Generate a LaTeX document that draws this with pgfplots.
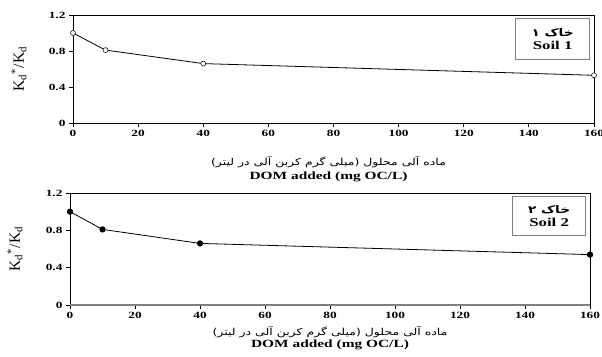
\documentclass[border=0pt]{standalone}
\usepackage{fontspec}
\usepackage{pgfplots}
\pgfplotsset{compat=1.18}
\TeXXeTstate=1
\setmainfont{Liberation Serif}[FakeStretch=1.4]
\newfontfamily\plainserif{Liberation Serif}
\newfontfamily\fa[Script=Arabic,FakeStretch=1.3]{DejaVu Sans}
\newcommand\dompersian{\beginR ماده آلی محلول (میلی گرم کربن آلی در لیتر)\endR}
\pgfplotsset{myax/.style={
  scale only axis, anchor=north west,
  xmin=0, xmax=160, ymin=0, ymax=1.2,
  xtick={0,20,...,160}, ytick={0,0.4,0.8,1.2},
  tick align=outside, xtick pos=bottom, ytick pos=left,
  major tick length=4pt,
  tick style={black, line width=0.8pt},
  ticklabel style={font=\bfseries\fontsize{9.5}{10}\selectfont},
  /pgf/number format/assume math mode=true,
  axis line style={line width=0.8pt},
  clip=false,
  ylabel={\plainserif\fontsize{15.5}{17}\selectfont K\textsubscript{d}\textsuperscript{*}/K\textsubscript{d}},
}}
\begin{document}
\begin{tikzpicture}
\begin{axis}[myax, at={(73pt,-15pt)}, width=521pt, height=108pt,
  ylabel style={at={([xshift=-54pt]axis description cs:0,0.5)}, anchor=center}]
\addplot[black, line width=0.8pt, mark=*, mark size=2.5pt, mark options={fill=white, draw=black, line width=0.5pt}]
  coordinates {(0,1.0) (10,0.81) (40,0.66) (160,0.53)};
\node[draw=gray, line width=0.8pt, anchor=north east, minimum width=74pt, minimum height=41pt, align=center, inner sep=1pt]
  at ([xshift=-4pt,yshift=-3pt]rel axis cs:1,1)
  {{\fa\bfseries\fontsize{10.5}{12}\selectfont\beginR خاک ۱\endR}\\[1pt]{\bfseries\fontsize{12}{13}\selectfont Soil 1}};
\node[anchor=center] at ([xshift=-5pt,yshift=-39pt]rel axis cs:0.5,0) {\fa\fontsize{9.6}{11}\selectfont\dompersian};
\node[anchor=center] at ([xshift=-5pt,yshift=-54pt]rel axis cs:0.5,0) {\bfseries\fontsize{11}{12}\selectfont DOM added (mg OC/L)};
\end{axis}
\begin{axis}[myax, at={(70pt,-193pt)}, width=520pt, height=112pt,
  ylabel style={at={([xshift=-55pt]axis description cs:0,0.5)}, anchor=center}]
\draw[gray, line width=1.5pt] (rel axis cs:0,0) -- (rel axis cs:1,0);
\addplot[black, line width=0.8pt, mark=*, mark size=2.7pt, mark options={fill=black, draw=black}]
  coordinates {(0,1.0) (10,0.81) (40,0.66) (160,0.54)};
\node[draw=gray, line width=0.8pt, anchor=north east, minimum width=73pt, minimum height=39pt, align=center, inner sep=1pt]
  at ([xshift=-4pt,yshift=-3pt]rel axis cs:1,1)
  {{\fa\bfseries\fontsize{10.5}{12}\selectfont\beginR خاک ۲\endR}\\[1pt]{\bfseries\fontsize{12}{13}\selectfont Soil 2}};
\node[anchor=center] at ([yshift=-27pt]rel axis cs:0.5,0) {\fa\fontsize{9.6}{11}\selectfont\dompersian};
\node[anchor=center] at ([yshift=-40pt]rel axis cs:0.5,0) {\bfseries\fontsize{11}{12}\selectfont DOM added (mg OC/L)};
\end{axis}
\pgfresetboundingbox
\path[use as bounding box] (0,0) rectangle (602pt,-356pt);
\end{tikzpicture}
\end{document}
